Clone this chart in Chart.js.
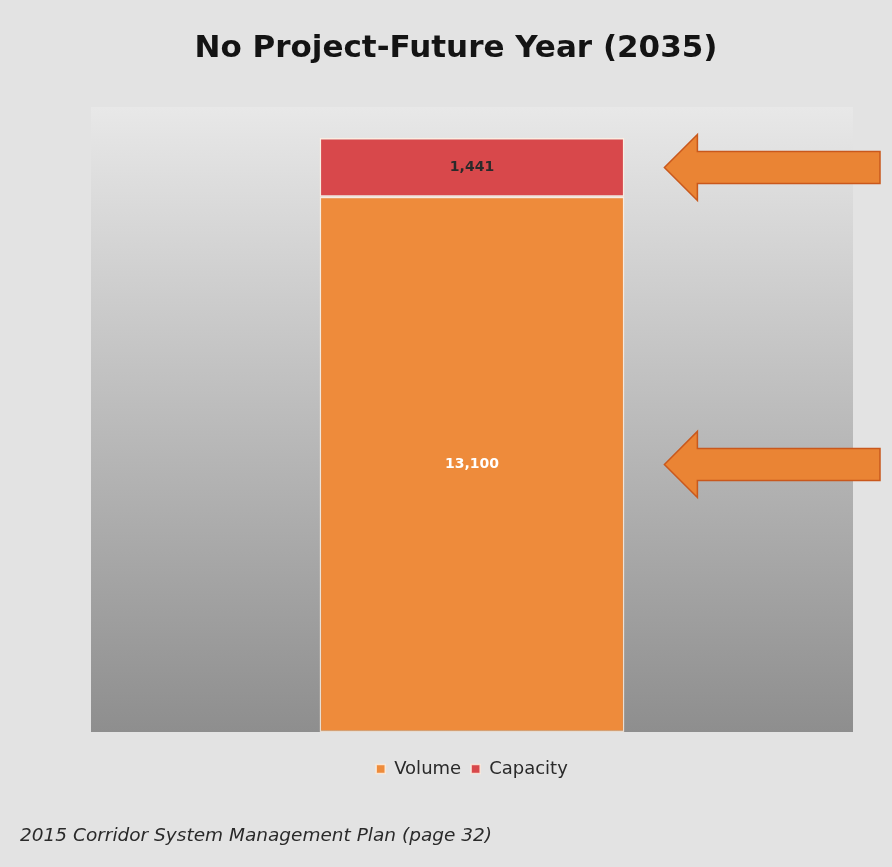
<!DOCTYPE html>
<html>
<head>
<meta charset="utf-8">
<script src="https://cdn.jsdelivr.net/npm/chart.js@4"></script>
<style>
  html, body { margin: 0; padding: 0; background: #e3e3e3; }
  #wrap { width: 892px; height: 867px; }
</style>
</head>
<body>
<div id="wrap"><canvas id="myChart"></canvas></div>
<script>
var categories = ["2035"];
var volumeValues = [13100];
var capacityValues = [1441];
var seriesNames = ["Volume", "Capacity"];
var titleText = "No Project-Future Year (2035)";
var footerText = "2015 Corridor System Management Plan (page 32)";

// gray gradient behind the plot area
var plotBackground = {
  id: 'plotBackground',
  beforeDraw: function(chart) {
    var a = chart.chartArea, c = chart.ctx;
    var g = c.createLinearGradient(0, a.top, 0, a.bottom);
    g.addColorStop(0, '#e8e8e8');
    g.addColorStop(1, '#8e8e8e');
    c.save();
    c.fillStyle = g;
    c.fillRect(a.left, a.top, a.right - a.left, a.bottom - a.top);
    c.restore();
  }
};

// heading over the plot and the source line at the bottom
var headerFooter = {
  id: 'headerFooter',
  afterDraw: function(chart) {
    var c = chart.ctx;
    c.save();
    c.fillStyle = '#141414';
    c.textAlign = 'center';
    c.textBaseline = 'middle';
    c.font = 'bold 31px "DejaVu Sans", sans-serif';
    c.fillText(titleText, 456, 49);
    c.fillStyle = '#2a2a2a';
    c.textAlign = 'left';
    c.font = 'italic 18.5px "DejaVu Sans", sans-serif';
    c.fillText(footerText, 20, 836);
    c.restore();
  }
};

// value labels in the middle of each segment + arrows pointing at them
var segmentLabels = {
  id: 'segmentLabels',
  afterDatasetsDraw: function(chart) {
    var c = chart.ctx;
    c.save();
    chart.data.datasets.forEach(function(ds, i) {
      var meta = chart.getDatasetMeta(i);
      meta.data.forEach(function(bar, j) {
        var p = bar.getProps(['x', 'y', 'base', 'width'], true);
        var cy = (p.y + p.base) / 2;
        c.font = 'bold 14px "DejaVu Sans", sans-serif';
        c.textAlign = 'center';
        c.textBaseline = 'middle';
        c.fillStyle = i === 0 ? '#ffffff' : '#2a2a2a';
        c.fillText(ds.data[j].toLocaleString('en-US'), p.x, cy);

        // arrow
        var tip = p.x + p.width / 2 + 40;
        var headEnd = tip + 33;
        var tail = chart.width - 12;
        var sh = 16, hh = 33;
        c.beginPath();
        c.moveTo(tip, cy);
        c.lineTo(headEnd, cy - hh);
        c.lineTo(headEnd, cy - sh);
        c.lineTo(tail, cy - sh);
        c.lineTo(tail, cy + sh);
        c.lineTo(headEnd, cy + sh);
        c.lineTo(headEnd, cy + hh);
        c.closePath();
        c.fillStyle = '#ea8434';
        c.fill();
        c.lineWidth = 1.5;
        c.strokeStyle = '#c9581c';
        c.stroke();
      });
    });
    c.restore();
  }
};

var ctx = document.getElementById('myChart').getContext('2d');
var myChart = new Chart(ctx, {
  type: 'bar',
  data: {
    labels: categories,
    datasets: [{
      label: seriesNames[0],
      data: volumeValues,
      backgroundColor: '#ee8b3b',
      borderColor: 'rgba(255,240,225,0.8)',
      borderWidth: 1.5,
      borderSkipped: false
    }, {
      label: seriesNames[1],
      data: capacityValues,
      backgroundColor: '#d8484b',
      borderColor: 'rgba(255,240,225,0.8)',
      borderWidth: 1.5,
      borderSkipped: false
    }]
  },
  options: {
    responsive: true,
    maintainAspectRatio: false,
    animation: false,
    layout: { padding: { left: 91, right: 39, top: 107, bottom: 79 } },
    datasets: { bar: { categoryPercentage: 1, barPercentage: 0.4 } },
    plugins: {
      title: { display: false },
      legend: {
        position: 'bottom',
        title: { display: true, text: ' ', font: { size: 10 }, padding: { top: 0, bottom: 6 } },
        labels: {
          boxWidth: 9,
          boxHeight: 9,
          padding: 10,
          color: '#2a2a2a',
          font: { family: '"DejaVu Sans", sans-serif', size: 18 }
        }
      },
      tooltip: { enabled: false }
    },
    scales: {
      x: { stacked: true, display: false },
      y: { stacked: true, display: false, min: 0, max: 15300 }
    }
  },
  plugins: [plotBackground, segmentLabels, headerFooter]
});
</script>
</body>
</html>
